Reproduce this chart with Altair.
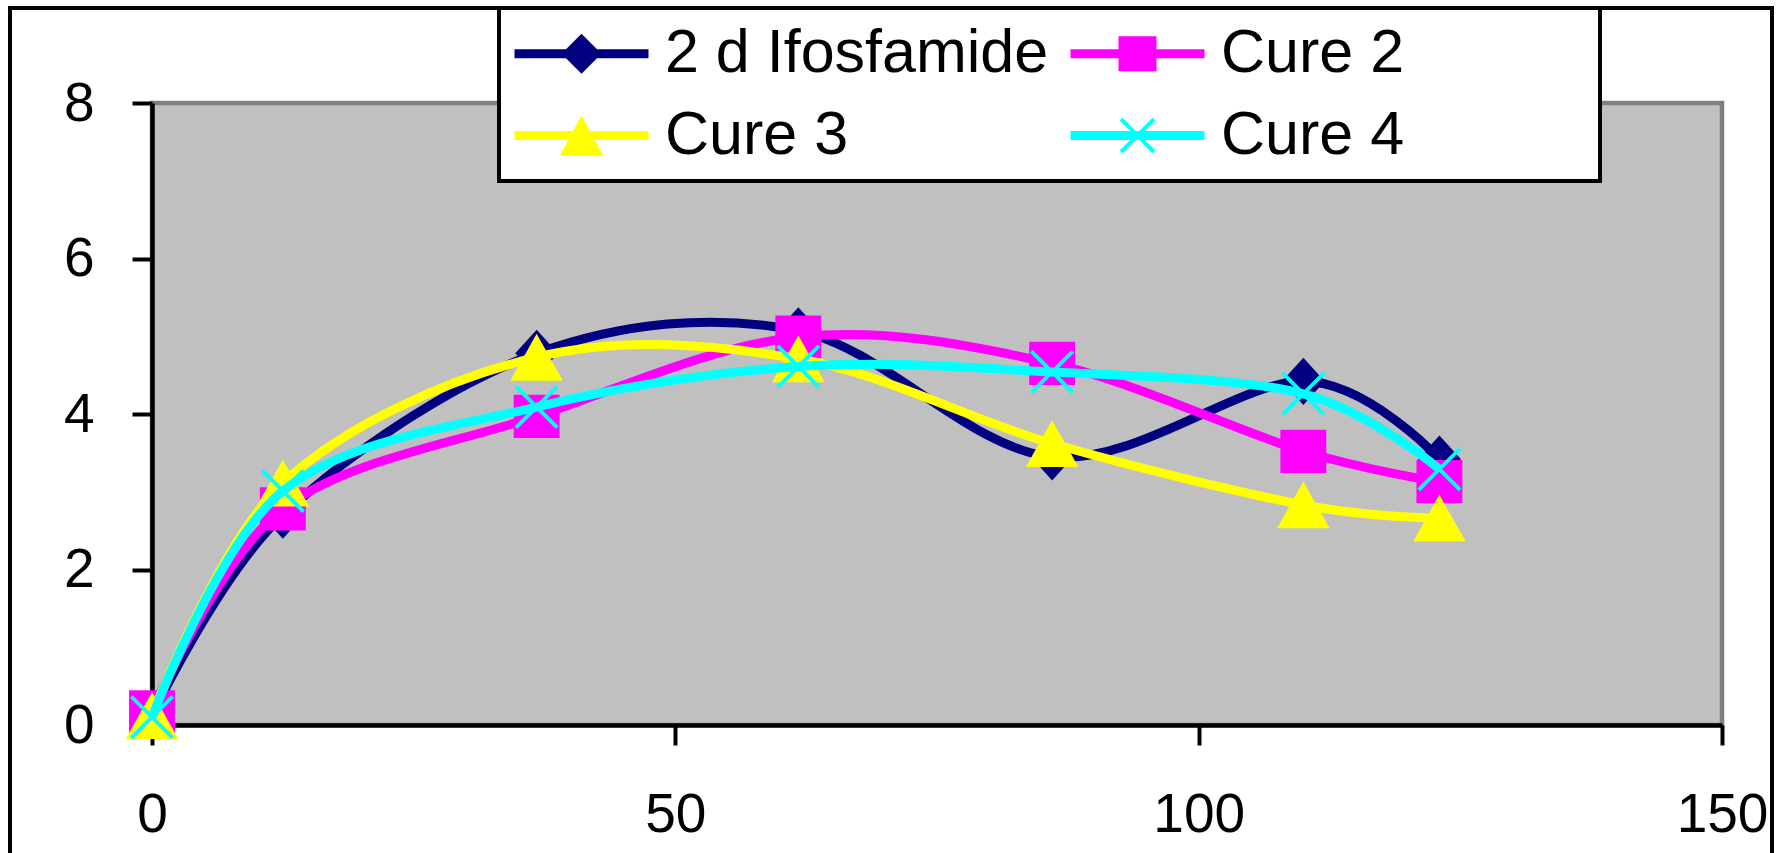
import altair as alt
import pandas as pd

# ---- data ----
hours = [0, 12.5, 36.75, 61.75, 86, 110, 123]
series_names = ["2 d Ifosfamide", "Cure 2", "Cure 3", "Cure 4"]
ifosfamide_2d = [0.12, 2.70, 4.78, 5.07, 3.45, 4.42, 3.42]
cure_2 = [0.17, 2.78, 3.97, 4.99, 4.65, 3.52, 3.13]
cure_3 = [0.12, 3.11, 4.73, 4.71, 3.62, 2.83, 2.66]
cure_4 = [0.10, 3.01, 4.09, 4.61, 4.54, 4.26, 3.29]
series_colors = ["#000080", "#FF00FF", "#FFFF00", "#00FFFF"]
x_ticks = [0, 50, 100, 150]
y_ticks = [0, 2, 4, 6, 8]

values = [ifosfamide_2d, cure_2, cure_3, cure_4]
rows = []
for name, vals in zip(series_names, values):
    for h, v in zip(hours, vals):
        rows.append({"hours": h, "value": v, "series": name})
df = pd.DataFrame(rows)

# ---- marker shapes (custom SVG paths) ----
plot_shapes = [
    "M0,-1.05L0.95,0L0,1.05L-0.95,0Z",
    "M-1.02,-0.96H1.02V0.96H-1.02Z",
    "M0,-1.04L1.17,1.04H-1.17Z",
    "M-0.98,-0.86L-0.86,-0.98L0.98,0.86L0.86,0.98Z M-0.98,0.86L0.86,-0.98L0.98,-0.86L-0.86,0.98Z",
]
legend_line = "M-3.35,-0.225H3.35V0.225H-3.35Z "
legend_shapes = [
    legend_line + "M0,-1L1,0L0,1L-1,0Z",
    legend_line + "M-0.95,-0.88H0.95V0.88H-0.95Z",
    legend_line + "M0,-1L1.08,1H-1.08Z",
    legend_line + "M-0.89,-0.75L-0.75,-0.89L0.89,0.75L0.75,0.89Z M-0.89,0.75L0.75,-0.89L0.89,-0.75L-0.75,0.89Z",
]

FONT = "Liberation Sans"
# blank (non-whitespace) padding so the legend frame keeps the wide Excel box
BLANK = "\u2800" * 4
label_expr = (
    f"datum.value === '{series_names[1]}' || datum.value === '{series_names[3]}' "
    f"? datum.label + '{BLANK}' : datum.label"
)

color_scale = alt.Scale(domain=series_names, range=series_colors)
x_enc = alt.X(
    "hours:Q",
    scale=alt.Scale(domain=[0, 150], nice=False),
    axis=alt.Axis(values=x_ticks, title=None, grid=False, labelFlush=False, labelOverlap=False,
                  labelPadding=43, tickSize=20),
)
y_enc = alt.Y(
    "value:Q",
    scale=alt.Scale(domain=[0, 8], nice=False),
    axis=alt.Axis(values=y_ticks, title=None, grid=False, labelPadding=38, tickSize=20),
)

legend = alt.Legend(
    title=None,
    orient="none",
    direction="horizontal",
    legendX=347,
    legendY=-95,
    columns=2,
    columnPadding=21,
    rowPadding=20,
    padding=15,
    labelFont=FONT,
    labelFontSize=61,
    labelColor="black",
    labelLimit=3000,
    labelOffset=53,
    labelExpr=label_expr,
    symbolOffset=37,
    symbolSize=1600,
    symbolStrokeWidth=0,
    symbolOpacity=1,
    strokeColor="black",
    fillColor="white",
)

# legend-only layer first (no data rows drawn): line + marker symbols
legend_layer = alt.Chart(df).transform_filter("false").mark_point(
    filled=True, opacity=1, strokeWidth=0
).encode(
    x=x_enc,
    y=y_enc,
    color=alt.Color("series:N", scale=color_scale, legend=legend),
    shape=alt.Shape("series:N", scale=alt.Scale(domain=series_names, range=legend_shapes), legend=legend),
)
layers = [legend_layer]

for name, shp in zip(series_names, plot_shapes):
    base = alt.Chart(df).transform_filter(alt.datum.series == name)
    line = base.mark_line(interpolate="cardinal", strokeWidth=9).encode(
        x=x_enc, y=y_enc, color=alt.Color("series:N", scale=color_scale, legend=None)
    )
    pts = base.mark_point(filled=True, shape=shp, size=2025, opacity=1, strokeWidth=0).encode(
        x=x_enc, y=y_enc, color=alt.Color("series:N", scale=color_scale, legend=None)
    )
    layers += [line, pts]

frame = alt.Chart(alt.Data(values=[{"f": 1}])).mark_rect(
    fill="transparent", stroke="black", strokeWidth=4
).encode(
    x=alt.value(-142), x2=alt.value(1620), y=alt.value(-95), y2=alt.value(800)
)
layers.append(frame)

chart = alt.layer(*layers).properties(
    width=1570,
    height=622,
    autosize=alt.AutoSizeParams(type="none"),
    padding={"left": 152, "top": 103, "right": 59, "bottom": 128},
    background="white",
).configure_view(
    fill="#C0C0C0", stroke="#808080", strokeWidth=4.5
).configure_axis(
    domainColor="black", domainWidth=4.5, tickColor="black", tickWidth=4,
    labelFont=FONT, labelFontSize=55, labelColor="black",
).configure_legend(
    strokeWidth=4
)

chart.save("out.html", embed_options={"renderer": "svg", "actions": False})
